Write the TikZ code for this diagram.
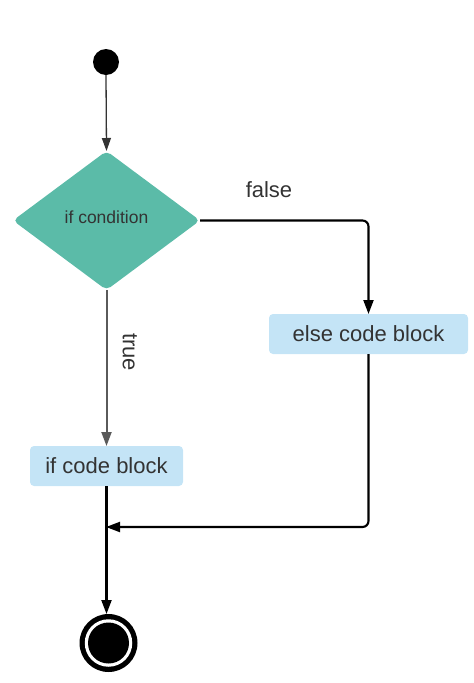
\documentclass[tikz,border=0pt]{standalone}
\usepackage{fontspec}
\setmainfont{Liberation Sans}
\usetikzlibrary{shapes.geometric,arrows.meta}
\definecolor{teal1}{RGB}{91,187,168}
\definecolor{blk}{RGB}{196,228,246}
\definecolor{txt}{RGB}{51,51,51}
\definecolor{grayline}{RGB}{90,90,90}
\tikzset{
  codeblock/.style={rectangle, rounded corners=4pt, fill=blk, draw=none, text=txt,
    minimum height=40pt, inner sep=0pt, outer sep=0pt, font=\fontsize{22}{25}\selectfont},
  cond/.style={diamond, fill=teal1, draw=none, rounded corners=5pt, minimum width=187pt,
    minimum height=139pt, inner sep=0pt, outer sep=0pt},
  condtext/.style={text=txt, inner sep=0pt, font=\fontsize{17.5}{20}\selectfont},
  lbl/.style={text=txt, font=\fontsize{22}{25}\selectfont, inner sep=0pt},
  blkarrow/.style={line width=2.1pt, black, -{Triangle[length=14pt,width=10pt]}, rounded corners=6pt},
  grayarrow/.style={line width=2pt, grayline, -{Triangle[length=14pt,width=10pt]}},
  toparrow/.style={line width=1.3pt, txt, -{Triangle[length=13pt,width=9pt]}},
}
\begin{document}
\begin{tikzpicture}[x=1pt,y=-1pt]
\useasboundingbox (0,0) rectangle (474,683);
\node[circle, fill=black, minimum size=26pt, inner sep=0pt, outer sep=0pt] (start) at (106,62) {};
\node[cond] (c) at (106.5,220.5) {};
\node[condtext] (ctext) at (106.5,217) {if condition};
\node[codeblock, minimum width=153pt] (ifb) at (106.5,466) {if code block};
\node[codeblock, minimum width=199pt] (elseb) at (368.5,334) {else code block};
\node[circle, fill=black, minimum size=58pt, inner sep=0pt, outer sep=0pt] (end) at (108.5,643) {};
\node[circle, fill=white, minimum size=47.5pt, inner sep=0pt] (endw) at (end.center) {};
\node[circle, fill=black, minimum size=41pt, inner sep=0pt] (endi) at (end.center) {};
\coordinate (join) at (106,527);

\draw[toparrow] (start.south) -- (c.north);
\draw[grayarrow] (c.south) -- (ifb.north);
\node[lbl, rotate=-90] (t) at (130,352) {true};
\draw[blkarrow] (c.east) -| (elseb.north);
\node[lbl] (f) at (269,190) {false};
\draw[blkarrow] (elseb.south) |- (join);
\draw[blkarrow] (ifb.south) -- (ifb.south |- end.north);
\end{tikzpicture}
\end{document}
